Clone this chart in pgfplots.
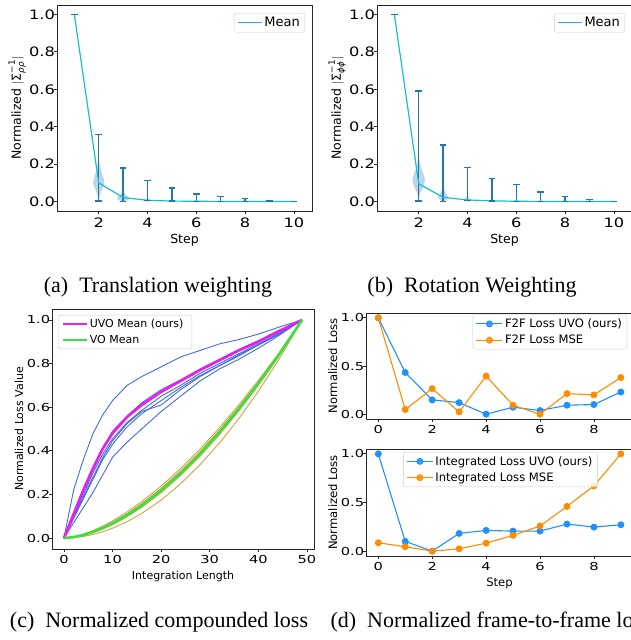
\documentclass[border=0pt]{standalone}
\usepackage{fontspec}
\setmainfont{DejaVu Sans}
\newfontfamily\capfont{Liberation Serif}
\usepackage{amsmath}
\usepackage{pgfplots}
\pgfplotsset{compat=1.18}
\definecolor{c0}{HTML}{1F77B4}
\definecolor{tcyan}{HTML}{17BECF}
\definecolor{violin}{HTML}{BCD6E8}
\definecolor{rblue}{HTML}{4169E1}
\definecolor{goldo}{HTML}{D4A040}
\definecolor{mag}{HTML}{EA1EEA}
\definecolor{limeg}{HTML}{3CE03C}
\definecolor{dblue}{HTML}{1E90FF}
\definecolor{dorange}{HTML}{FF8C00}
\pgfplotsset{
  mpl/.style={scale only axis, anchor=south west,
    axis line style={black!85, line width=0.8pt},
    tick align=outside, major tick length=3pt,
    tick style={black!85, line width=0.8pt},
    tick pos=left, minor tick num=0,
    /pgf/number format/assume math mode=true,
    yticklabel style={inner xsep=0pt, xshift=1pt},
    legend cell align=left,
    legend style={draw=black!20, rounded corners=2pt, fill=white, fill opacity=0.8, text opacity=1},
  },
  yfmt/.style={yticklabel style={/pgf/number format/.cd, fixed, fixed zerofill, precision=1}},
  lleg/.style={legend image code/.code={\draw[##1] (0pt,0pt) -- (24pt,0pt);}},
  mleg/.style={legend image code/.code={\draw[mark repeat=2,mark phase=2,##1] plot coordinates {(0pt,0pt) (13pt,0pt) (26pt,0pt)};}},
  ebar/.style={c0, line width=1.3pt, mark=-, mark size=3.3pt, forget plot},
}
\begin{document}
\begin{tikzpicture}
% ---------------- (a) ----------------
\begin{axis}[mpl, yfmt, lleg, at={(57pt,429pt)}, width=255pt, height=206pt,
  xmin=0.29, xmax=10.74, ymin=-0.05, ymax=1.05,
  xtick={2,4,6,8,10}, ytick={0,0.2,0.4,0.6,0.8,1.0},
  ticklabel style={font=\fontsize{13}{13}\selectfont, xscale=1.25},
  label style={font=\fontsize{12.5}{15}\selectfont},
  xlabel={Step}, ylabel={Normalized $|\text{Σ}^{\text{−1}}_{\textit{ρρ}}|$},
  legend style={at={(0.973,0.961)}, anchor=north east, font=\fontsize{13}{15}\selectfont}]
\addplot[fill=violin, draw=none, forget plot] coordinates {(2.01,0.003)(2.04,0.03)(2.12,0.06)(2.19,0.08)(2.23,0.10)(2.21,0.12)(2.16,0.14)(2.09,0.17)(2.04,0.20)(2.0,0.23)(1.96,0.20)(1.91,0.17)(1.84,0.14)(1.79,0.12)(1.77,0.10)(1.81,0.08)(1.88,0.06)(1.96,0.03)(1.99,0.003)};
\addplot[fill=violin, draw=none, forget plot] coordinates {(3.03,0.0)(3.2,0.008)(3.26,0.018)(3.18,0.03)(3.08,0.042)(3.0,0.055)(2.92,0.042)(2.82,0.03)(2.74,0.018)(2.8,0.008)(2.97,0.0)};
\addplot[fill=violin, draw=none, forget plot] coordinates {(4.02,0.0)(4.14,0.006)(4.08,0.014)(4.0,0.022)(3.92,0.014)(3.86,0.006)(3.98,0.0)};
\addplot[fill=violin, draw=none, forget plot] coordinates {(5.02,0.0)(5.1,0.004)(5.0,0.012)(4.9,0.004)(4.98,0.0)};
\addplot[fill=violin, draw=none, forget plot] coordinates {(6.02,0.0)(6.08,0.003)(6.0,0.008)(5.92,0.003)(5.98,0.0)};
\addplot[ebar] coordinates {(1,1.0)};
\addplot[ebar] coordinates {(2,0.003)(2,0.360)};
\addplot[ebar] coordinates {(3,0.002)(3,0.180)};
\addplot[ebar] coordinates {(4,0.005)(4,0.113)};
\addplot[ebar] coordinates {(5,0.003)(5,0.072)};
\addplot[ebar] coordinates {(6,0.002)(6,0.041)};
\addplot[ebar] coordinates {(7,0.001)(7,0.029)};
\addplot[ebar] coordinates {(8,0.001)(8,0.016)};
\addplot[ebar] coordinates {(9,0.0)(9,0.005)};
\addplot[ebar] coordinates {(10,0.0)(10,0.001)};
\addplot[tcyan, line width=1.2pt] coordinates {(1,1.0)(2,0.10)(3,0.022)(4,0.007)(5,0.003)(6,0.002)(7,0.001)(8,0.001)(9,0.0005)(10,0.0003)};
\addlegendentry{Mean}
\end{axis}
\node[font=\capfont\fontsize{22}{24}\selectfont] at (158pt,353pt) {(a)\ \ Translation weighting};
% ---------------- (b) ----------------
\begin{axis}[mpl, yfmt, lleg, at={(377pt,429pt)}, width=255pt, height=206pt,
  xmin=0.29, xmax=10.74, ymin=-0.05, ymax=1.05,
  xtick={2,4,6,8,10}, ytick={0,0.2,0.4,0.6,0.8,1.0},
  ticklabel style={font=\fontsize{13}{13}\selectfont, xscale=1.25},
  label style={font=\fontsize{12.5}{15}\selectfont},
  xlabel={Step}, ylabel={Normalized $|\text{Σ}^{\text{−1}}_{\textit{ϕϕ}}|$},
  legend style={at={(0.973,0.961)}, anchor=north east, font=\fontsize{13}{15}\selectfont}]
\addplot[fill=violin, draw=none, forget plot] coordinates {(2.01,0.01)(2.05,0.04)(2.15,0.07)(2.24,0.10)(2.25,0.12)(2.19,0.15)(2.1,0.18)(2.04,0.22)(2.0,0.26)(1.96,0.22)(1.9,0.18)(1.81,0.15)(1.75,0.12)(1.76,0.10)(1.85,0.07)(1.95,0.04)(1.99,0.01)};
\addplot[fill=violin, draw=none, forget plot] coordinates {(3.02,0.003)(3.15,0.012)(3.21,0.025)(3.13,0.04)(3.06,0.06)(3.0,0.09)(2.94,0.06)(2.87,0.04)(2.79,0.025)(2.85,0.012)(2.98,0.003)};
\addplot[fill=violin, draw=none, forget plot] coordinates {(4.02,0.0)(4.13,0.008)(4.06,0.02)(4.0,0.03)(3.94,0.02)(3.87,0.008)(3.98,0.0)};
\addplot[fill=violin, draw=none, forget plot] coordinates {(5.02,0.0)(5.1,0.005)(5.0,0.014)(4.9,0.005)(4.98,0.0)};
\addplot[fill=violin, draw=none, forget plot] coordinates {(6.02,0.0)(6.08,0.004)(6.0,0.01)(5.92,0.004)(5.98,0.0)};
\addplot[ebar] coordinates {(1,1.0)};
\addplot[ebar] coordinates {(2,0.003)(2,0.591)};
\addplot[ebar] coordinates {(3,0.002)(3,0.302)};
\addplot[ebar] coordinates {(4,0.005)(4,0.181)};
\addplot[ebar] coordinates {(5,0.003)(5,0.122)};
\addplot[ebar] coordinates {(6,0.002)(6,0.090)};
\addplot[ebar] coordinates {(7,0.001)(7,0.051)};
\addplot[ebar] coordinates {(8,0.001)(8,0.029)};
\addplot[ebar] coordinates {(9,0.0)(9,0.013)};
\addplot[ebar] coordinates {(10,0.0)(10,0.002)};
\addplot[tcyan, line width=1.2pt] coordinates {(1,1.0)(2,0.095)(3,0.023)(4,0.009)(5,0.004)(6,0.002)(7,0.001)(8,0.001)(9,0.0005)(10,0.0003)};
\addlegendentry{Mean}
\end{axis}
\node[font=\capfont\fontsize{22}{24}\selectfont] at (472pt,353pt) {(b)\ \ Rotation Weighting};
% ---------------- (c) ----------------
\begin{axis}[mpl, yfmt, lleg, at={(52pt,91pt)}, width=262pt, height=240pt,
  xmin=-2.45, xmax=51.45, ymin=-0.05, ymax=1.05,
  xtick={0,10,20,30,40,50}, ytick={0,0.2,0.4,0.6,0.8,1.0},
  ticklabel style={font=\fontsize{11}{11}\selectfont, xscale=1.33},
  label style={font=\fontsize{11}{13}\selectfont},
  xlabel={Integration Length}, ylabel={Normalized Loss Value},
  legend style={at={(0.023,0.975)}, anchor=north west, font=\fontsize{11}{13}\selectfont, row sep=2pt}]
\addplot[rblue, line width=0.9pt, forget plot] coordinates {(0,0)(2,0.22)(4,0.36)(6,0.48)(8,0.565)(10,0.63)(13,0.70)(16,0.74)(20,0.785)(24,0.83)(28,0.86)(32,0.89)(36,0.91)(40,0.935)(44,0.965)(49,1)};
\addplot[rblue, line width=0.9pt, forget plot] coordinates {(0,0)(2,0.115)(4,0.225)(6,0.325)(8,0.415)(10,0.49)(13,0.56)(16,0.62)(20,0.68)(24,0.725)(28,0.775)(32,0.82)(36,0.865)(40,0.905)(44,0.95)(49,1)};
\addplot[rblue, line width=0.9pt, forget plot] coordinates {(0,0)(2,0.10)(4,0.20)(6,0.30)(8,0.385)(10,0.455)(13,0.53)(16,0.585)(20,0.65)(24,0.70)(28,0.755)(32,0.80)(36,0.845)(40,0.89)(44,0.935)(49,1)};
\addplot[rblue, line width=0.9pt, forget plot] coordinates {(0,0)(2,0.09)(4,0.18)(6,0.27)(8,0.36)(10,0.43)(13,0.51)(16,0.57)(20,0.63)(24,0.69)(28,0.745)(32,0.79)(36,0.835)(40,0.885)(44,0.93)(49,1)};
\addplot[rblue, line width=0.9pt, forget plot] coordinates {(0,0)(2,0.095)(4,0.19)(6,0.28)(8,0.37)(10,0.445)(13,0.525)(16,0.58)(20,0.61)(24,0.68)(28,0.74)(32,0.79)(36,0.84)(40,0.885)(44,0.935)(49,1)};
\addplot[rblue, line width=0.9pt, forget plot] coordinates {(0,0)(2,0.07)(4,0.14)(6,0.21)(8,0.29)(10,0.37)(13,0.44)(16,0.50)(20,0.58)(24,0.65)(28,0.72)(32,0.775)(36,0.82)(40,0.87)(44,0.925)(49,1)};
\addplot[goldo, line width=0.9pt, forget plot] coordinates {(0,0)(2,0.0060)(4,0.0181)(6,0.0347)(8,0.0551)(10,0.0787)(13,0.1197)(16,0.167)(20,0.238)(24,0.319)(28,0.408)(32,0.506)(36,0.611)(40,0.723)(44,0.841)(49,1)};
\addplot[goldo, line width=0.9pt, forget plot] coordinates {(0,0)(2,0.0051)(4,0.0160)(6,0.0313)(8,0.0503)(10,0.0727)(13,0.1119)(16,0.158)(20,0.228)(24,0.308)(28,0.397)(32,0.495)(36,0.602)(40,0.715)(44,0.837)(49,1)};
\addplot[goldo, line width=0.9pt, forget plot] coordinates {(0,0)(2,0.0037)(4,0.0125)(6,0.0254)(8,0.0420)(10,0.0620)(13,0.0981)(16,0.141)(20,0.208)(24,0.287)(28,0.375)(32,0.474)(36,0.583)(40,0.701)(44,0.828)(49,1)};
\addplot[goldo, line width=0.9pt, forget plot] coordinates {(0,0)(2,0.00195)(4,0.00754)(6,0.0167)(8,0.0292)(10,0.0451)(13,0.0752)(16,0.1128)(20,0.174)(24,0.249)(28,0.336)(32,0.436)(36,0.548)(40,0.673)(44,0.810)(49,1)};
\addplot[mag, line width=2.6pt] coordinates {(0,0)(2,0.11)(4,0.22)(6,0.32)(8,0.41)(10,0.48)(13,0.555)(16,0.61)(20,0.67)(24,0.72)(28,0.77)(32,0.815)(36,0.86)(40,0.90)(44,0.945)(49,1)};
\addlegendentry{\makebox[97pt][l]{UVO Mean (ours)}}
\addplot[limeg, line width=2.6pt] coordinates {(0,0)(2,0.00435)(4,0.0141)(6,0.0282)(8,0.0459)(10,0.0671)(13,0.1048)(16,0.1493)(20,0.218)(24,0.297)(28,0.386)(32,0.485)(36,0.592)(40,0.708)(44,0.832)(49,1)};
\addlegendentry{VO Mean}
\end{axis}
\node[font=\capfont\fontsize{22}{24}\selectfont] at (159pt,18pt) {(c)\ \ Normalized compounded loss};
% ---------------- (d) top ----------------
\begin{axis}[mpl, yfmt, mleg, at={(366pt,221pt)}, width=267pt, height=106pt,
  xmin=-0.456, xmax=9.45, ymin=-0.05, ymax=1.05,
  xtick={0,2,4,6,8}, ytick={0,0.5,1.0},
  ticklabel style={font=\fontsize{11}{11}\selectfont, xscale=1.33},
  label style={font=\fontsize{11.6}{13}\selectfont},
  ylabel={Normalized Loss},
  legend style={at={(0.978,0.985)}, anchor=north east, font=\fontsize{11.6}{13}\selectfont, row sep=2pt}]
\addplot[dblue, line width=1.1pt, mark=*, mark size=2.9pt] coordinates {(0,1.0)(1,0.433)(2,0.148)(3,0.12)(4,0.0)(5,0.072)(6,0.038)(7,0.093)(8,0.10)(9,0.23)};
\addlegendentry{F2F Loss UVO (ours)}
\addplot[dorange, line width=1.1pt, mark=*, mark size=2.9pt] coordinates {(0,1.0)(1,0.048)(2,0.265)(3,0.024)(4,0.395)(5,0.093)(6,0.0)(7,0.213)(8,0.20)(9,0.38)};
\addlegendentry{F2F Loss MSE}
\end{axis}
% ---------------- (d) bottom ----------------
\begin{axis}[mpl, yfmt, mleg, at={(366pt,84pt)}, width=267pt, height=107pt,
  xmin=-0.456, xmax=9.45, ymin=-0.05, ymax=1.05,
  xtick={0,2,4,6,8}, ytick={0,0.5,1.0},
  ticklabel style={font=\fontsize{11}{11}\selectfont, xscale=1.33},
  label style={font=\fontsize{11.6}{13}\selectfont},
  xlabel={Step}, ylabel={Normalized Loss},
  legend style={at={(0.139,0.972)}, anchor=north west, font=\fontsize{11.6}{13}\selectfont, row sep=2pt}]
\addplot[dblue, line width=1.1pt, mark=*, mark size=2.9pt] coordinates {(0,1.0)(1,0.10)(2,0.0)(3,0.182)(4,0.213)(5,0.206)(6,0.206)(7,0.278)(8,0.247)(9,0.271)};
\addlegendentry{Integrated Loss UVO (ours)}
\addplot[dorange, line width=1.1pt, mark=*, mark size=2.9pt] coordinates {(0,0.086)(1,0.045)(2,0.0)(3,0.024)(4,0.082)(5,0.162)(6,0.258)(7,0.46)(8,0.67)(9,1.0)};
\addlegendentry{Integrated Loss MSE}
\end{axis}
\node[font=\capfont\fontsize{22}{24}\selectfont, anchor=west] at (327pt,18pt) {(d)\ \ Normalized frame-to-frame loss};
\pgfresetboundingbox
\path[use as bounding box] (0pt,0pt) rectangle (631pt,640pt);
\end{tikzpicture}
\end{document}
